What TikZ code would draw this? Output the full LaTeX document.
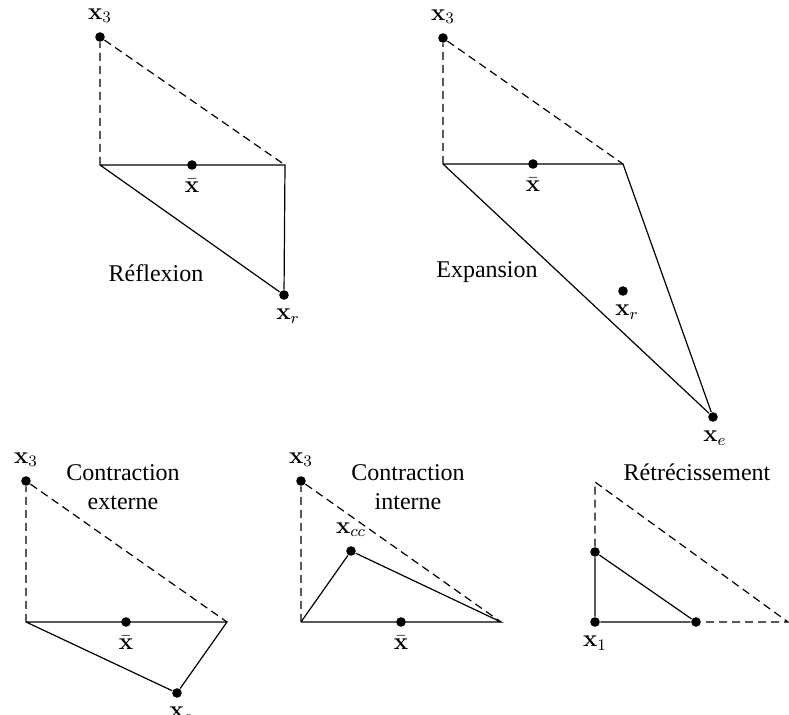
\documentclass[tikz,border=0pt,12pt]{standalone}
\usepackage[no-math]{fontspec}
\setmainfont{Liberation Serif}
\tikzset{pt/.style={circle, fill, inner sep=0pt, minimum size=4.8pt},
	ds/.style={dashed, dash pattern=on 4pt off 2.5pt}}

\begin{document}
\begin{tikzpicture}[x=0.5pt, y=-0.5pt, line width=0.6pt]
	\useasboundingbox (0,0) rectangle (789,715);
	
	% Reflexion
	\coordinate (a1) at (100,165);
	\coordinate (b1) at (285,165);
	\node[pt, label=above:$\mathbf{x}_3$] (t1) at (100,37) {};
	\node[pt, label=below:$\bar{\mathbf{x}}$] (m1) at (192,165) {};
	\node[pt, label={[xshift=2pt]below:$\mathbf{x}_r$}] (r1) at (284,295) {};
	\node (n1) at (156,273) {Réflexion};
	\draw[ds] (a1) -- (t1) -- (b1);
	\draw (a1) -- (b1) -- (r1) -- (a1);
	
	% Expansion
	\coordinate (a2) at (443,164);
	\coordinate (b2) at (623,164);
	\node[pt, label=above:$\mathbf{x}_3$] (t2) at (443,38) {};
	\node[pt, label=below:$\bar{\mathbf{x}}$] (m2) at (533,164) {};
	\node[pt, label={[xshift=2pt]below:$\mathbf{x}_r$}] (r2) at (623,291) {};
	\node[pt, label={[xshift=1pt]below:$\mathbf{x}_e$}] (e2) at (713,417) {};
	\node (n2) at (487,272) {Expansion};
	\draw[ds] (a2) -- (t2) -- (b2);
	\draw (a2) -- (b2) -- (e2) -- (a2);
	
	% Contraction externe
	\coordinate (a3) at (26,622);
	\coordinate (b3) at (227,622);
	\node[pt, label=above:$\mathbf{x}_3$] (t3) at (26,481) {};
	\node[pt, label=below:$\bar{\mathbf{x}}$] (m3) at (126,622) {};
	\node[pt, label={[xshift=2pt]below:$\mathbf{x}_c$}] (c3) at (177,693) {};
	\node[align=center] (n3) at (123,487) {Contraction\\externe};
	\draw[ds] (a3) -- (t3) -- (b3);
	\draw (a3) -- (b3) -- (c3) -- (a3);
	
	% Contraction interne
	\coordinate (a4) at (301,622);
	\coordinate (b4) at (501,622);
	\node[pt, label=above:$\mathbf{x}_3$] (t4) at (301,481) {};
	\node[pt, label=below:$\bar{\mathbf{x}}$] (m4) at (401,622) {};
	\node[pt, label=above:$\mathbf{x}_{cc}$] (c4) at (351,551) {};
	\node[align=center] (n4) at (408,487) {Contraction\\interne};
	\draw[ds] (a4) -- (t4) -- (b4);
	\draw (a4) -- (b4) -- (c4) -- (a4);
	
	% Retrecissement
	\coordinate (t5) at (595,482);
	\coordinate (b5) at (788,622);
	\node[pt] (s5) at (595,552) {};
	\node[pt, label=below:$\mathbf{x}_1$] (x5) at (595,622) {};
	\node[pt] (h5) at (696,622) {};
	\node (n5) at (697,472) {Rétrécissement};
	\draw[ds] (s5) -- (t5) -- (b5) -- (h5);
	\draw (x5) -- (s5) -- (h5) -- (x5);
\end{tikzpicture}
\end{document}
